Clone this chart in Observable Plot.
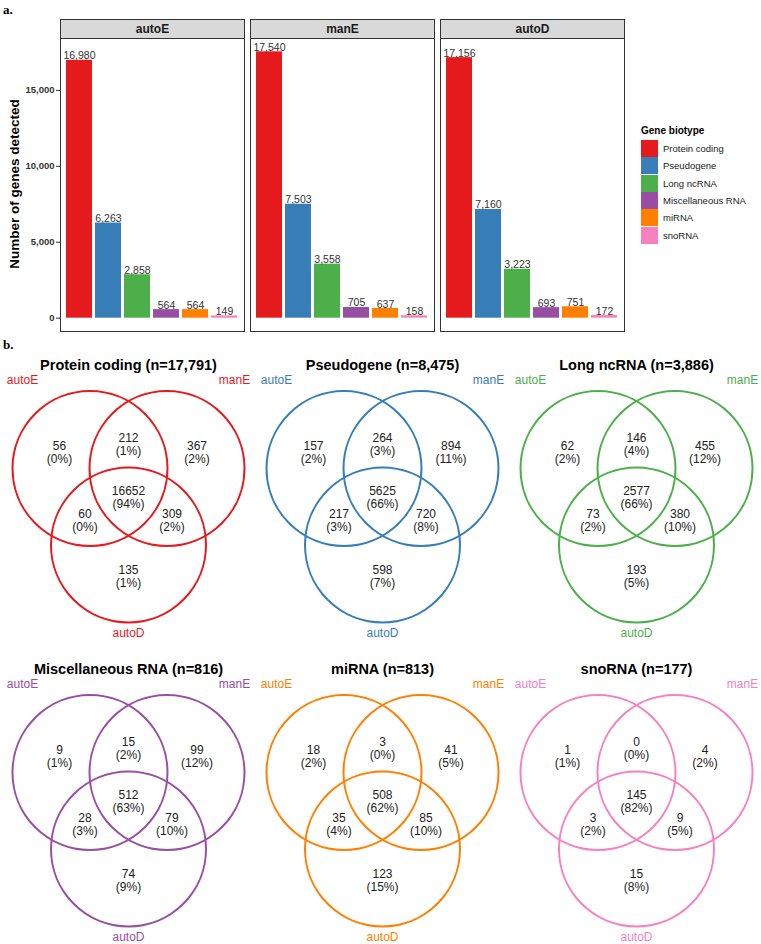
<!DOCTYPE html>
<html><head><meta charset="utf-8">
<script src="https://cdn.jsdelivr.net/npm/d3@7"></script>
<script src="https://cdn.jsdelivr.net/npm/@observablehq/plot@0.6"></script>
<style>
body{margin:0;background:#fff;overflow:hidden;font-family:"Liberation Sans",Arial,sans-serif;}
#page{position:relative;width:761px;height:944px;overflow:hidden;background:#fff;}
.abs{position:absolute;}
.tag{font-family:"Liberation Serif","DejaVu Serif",serif;font-weight:bold;font-size:13px;line-height:13px;color:#000;}
#ytitle{font-weight:bold;font-size:13.5px;color:#000;white-space:nowrap;transform:translate(-50%,-50%) rotate(-90deg);}
#legend .ttl{font-weight:bold;font-size:10px;color:#000;}
#legend .row{display:flex;align-items:center;height:17.3px;}
#legend .sw{width:17px;height:17px;margin-right:5px;}
#legend .lb{font-size:9.5px;color:#222;}
</style></head><body><div id="page"></div>
<script>
// ---------- data ----------
const biotypes = ["Protein coding","Pseudogene","Long ncRNA","Miscellaneous RNA","miRNA","snoRNA"];
const biotypeColors = ["#E41A1C","#377EB8","#4DAF4A","#984EA3","#FF7F00","#F781BF"];
const samples = ["autoE","manE","autoD"];
const autoECounts = [16980, 6263, 2858, 564, 564, 149];
const manECounts  = [17540, 7503, 3558, 705, 637, 158];
const autoDCounts = [17156, 7160, 3223, 693, 751, 172];
const yTicks = [0, 5000, 10000, 15000];

// Venn regions: autoE only, autoE∩manE, manE only, all three, autoE∩autoD, manE∩autoD, autoD only
const regionKeys = ["A","AB","B","ABC","AC","BC","C"];
const vennTotals = [17791, 8475, 3886, 816, 813, 177];
const proteinCodingVenn = [56, 212, 367, 16652, 60, 309, 135];
const proteinCodingPct  = [0, 1, 2, 94, 0, 2, 1];
const pseudogeneVenn    = [157, 264, 894, 5625, 217, 720, 598];
const pseudogenePct     = [2, 3, 11, 66, 3, 8, 7];
const longNcRNAVenn     = [62, 146, 455, 2577, 73, 380, 193];
const longNcRNAPct      = [2, 4, 12, 66, 2, 10, 5];
const miscRNAVenn       = [9, 15, 99, 512, 28, 79, 74];
const miscRNAPct        = [1, 2, 12, 63, 3, 10, 9];
const miRNAVenn         = [18, 3, 41, 508, 35, 85, 123];
const miRNAPct          = [2, 0, 5, 62, 4, 10, 15];
const snoRNAVenn        = [1, 0, 4, 145, 3, 9, 15];
const snoRNAPct         = [1, 0, 2, 82, 2, 5, 8];

const vennCounts = [proteinCodingVenn, pseudogeneVenn, longNcRNAVenn, miscRNAVenn, miRNAVenn, snoRNAVenn];
const vennPcts = [proteinCodingPct, pseudogenePct, longNcRNAPct, miscRNAPct, miRNAPct, snoRNAPct];

// ---------- helpers ----------
const fmt = d3.format(",");
const FONT = '"Liberation Sans", Arial, sans-serif';
const page = document.getElementById("page");
function place(node, left, top){ node.classList.add("abs"); node.style.left = left+"px"; node.style.top = top+"px"; page.appendChild(node); return node; }

// ---------- part a: faceted bars ----------
const sampleCounts = [autoECounts, manECounts, autoDCounts];
const barRows = samples.flatMap((s, i) => biotypes.map((b, j) => ({sample: s, biotype: b, count: sampleCounts[i][j]})));
const ymax = d3.max(barRows, d => d.count);
const A = {w: 630, h: 334, mt: 38, mb: 3, ml: 59, mr: 5, strip: 19};
const frameH = A.h - A.mt - A.mb;

const barChart = Plot.plot({
  width: A.w, height: A.h, marginTop: A.mt, marginBottom: A.mb, marginLeft: A.ml, marginRight: A.mr,
  style: {fontFamily: FONT, color: "#333", background: "transparent", overflow: "visible"},
  fx: {domain: samples, paddingInner: 0.03, paddingOuter: 0, axis: null, label: null},
  x: {domain: biotypes, paddingInner: 0.1, paddingOuter: 0.15, axis: null},
  y: {domain: [-0.05 * ymax, 1.05 * ymax]},
  color: {domain: biotypes, range: biotypeColors},
  marks: [
    Plot.frame({fill: "#d9d9d9", stroke: "#333", strokeWidth: 1, insetTop: -A.strip, insetBottom: frameH}),
    Plot.frame({stroke: "#333", strokeWidth: 1}),
    Plot.text(samples, {fx: d => d, text: d => d, frameAnchor: "top", lineAnchor: "middle", dy: -A.strip/2, fontSize: 12, fontWeight: "bold", fill: "#1a1a1a"}),
    Plot.barY(barRows, {fx: "sample", x: "biotype", y: "count", fill: "biotype"}),
    Plot.text(barRows, {fx: "sample", x: "biotype", y: "count", text: d => fmt(d.count), lineAnchor: "bottom", dy: -1, fontSize: 10.5, fill: "#333"}),
    Plot.axisY({ticks: yTicks, tickFormat: fmt, tickSize: 4, tickPadding: 2, fontSize: 9.5, fontWeight: "bold", label: null})
  ]
});
place(barChart, 0, 0);

const ytitle = document.createElement("div");
ytitle.id = "ytitle"; ytitle.textContent = "Number of genes detected";
place(ytitle, 14, 184);

// legend
const legend = document.createElement("div");
legend.id = "legend";
const lt = document.createElement("div"); lt.className = "ttl"; lt.textContent = "Gene biotype"; lt.style.marginBottom = "4px";
legend.appendChild(lt);
biotypes.forEach((b, i) => {
  const row = document.createElement("div"); row.className = "row";
  const sw = document.createElement("div"); sw.className = "sw"; sw.style.background = biotypeColors[i];
  const lb = document.createElement("div"); lb.className = "lb"; lb.textContent = b;
  row.appendChild(sw); row.appendChild(lb); legend.appendChild(row);
});
place(legend, 641, 125);

// panel tags
const ta = document.createElement("div"); ta.className = "tag"; ta.textContent = "a.";
place(ta, 3, 3);
const tb = document.createElement("div"); tb.className = "tag"; tb.textContent = "b.";
place(tb, 3, 338);

// ---------- part b: Venn diagrams ----------
// layout geometry (pixel units relative to midpoint between the two upper circle centres)
const V = {w: 254, h: 300, top: 125, R: 77.5, dx: 38.5, dy: 76.5};
const circleCenters = {autoE: [-V.dx, 0], manE: [V.dx, 0], autoD: [0, V.dy]};
const setLabelPos = {autoE: [-106, -88], manE: [106, -88], autoD: [0, 165]};
const regionAnchors = {A: [-69, -16], AB: [0, -24], B: [68.5, -16], ABC: [0, 28.5], AC: [-43.5, 52], BC: [43.5, 52], C: [0, 107.5]};
const titleY = -103;

biotypes.forEach((b, i) => {
  const color = biotypeColors[i];
  const regions = regionKeys.map((k, j) => ({key: k, n: vennCounts[i][j], p: vennPcts[i][j]}));
  const venn = Plot.plot({
    width: V.w, height: V.h, margin: 0,
    style: {fontFamily: FONT, background: "transparent", overflow: "visible"},
    x: {domain: [-V.w/2, V.w/2], range: [0, V.w], axis: null},
    y: {domain: [-V.top, V.h - V.top], range: [0, V.h], axis: null},
    marks: [
      Plot.dot(samples, {x: s => circleCenters[s][0], y: s => circleCenters[s][1], r: V.R, stroke: color, strokeWidth: 2, fill: "none"}),
      Plot.text(regions, {x: d => regionAnchors[d.key][0], y: d => regionAnchors[d.key][1], text: d => `${d.n}\n(${d.p}%)`, fontSize: 12, lineHeight: 1.1, fill: "#222"}),
      Plot.text([`${b} (n=${fmt(vennTotals[i])})`], {x: () => 0, y: () => titleY, text: d => d, fontSize: 14.5, fontWeight: "bold", fill: "#000"}),
      Plot.text(samples, {x: s => setLabelPos[s][0], y: s => setLabelPos[s][1], text: s => s, fontSize: 12, fill: color})
    ]
  });
  const col = i % 3, row = Math.floor(i / 3);
  const cx = 128.3 + 254 * col, cy = 468 + 304 * row;
  place(venn, cx - V.w/2, cy - V.top);
});
</script></body></html>
